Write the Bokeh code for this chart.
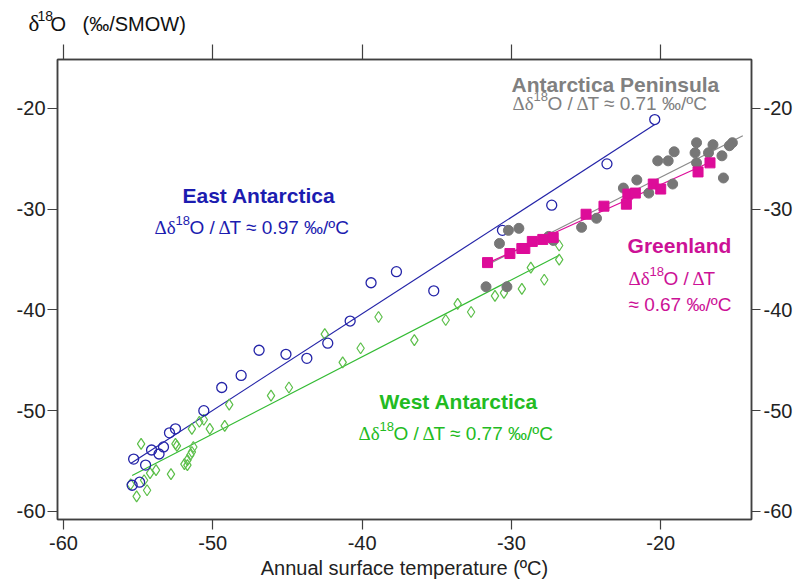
import numpy as np
from bokeh.plotting import figure
from bokeh.layouts import column
from bokeh.models import Range1d, LinearAxis, Label, FixedTicker
from bokeh.embed import file_html
from bokeh.resources import INLINE

# ---------------- data ----------------
east_T = [-55.4, -54.9, -55.3, -54.5, -54.1, -53.6, -53.3, -52.9, -52.5, -50.6, -49.4, -48.1,
          -46.9, -45.1, -43.7, -42.3, -40.8, -39.4, -37.7, -35.2, -30.6, -27.3, -23.6, -20.4]
east_d = [-57.4, -57.1, -54.8, -55.4, -53.9, -54.3, -53.6, -52.2, -51.8, -50.0, -47.7, -46.5,
          -44.0, -44.4, -44.8, -43.3, -41.1, -37.3, -36.2, -38.1, -32.1, -29.6, -25.5, -21.1]

west_T = [-55.5, -55.1, -54.4, -54.6, -54.2, -53.8, -52.8, -51.9, -51.7, -51.7, -51.5, -51.4,
          -51.3, -52.5, -52.4, -54.8, -51.4, -50.6, -50.9, -50.2, -49.2, -48.9, -46.1, -44.9,
          -42.5, -41.3, -40.1, -38.9, -36.5, -34.4, -33.6, -32.7, -31.1, -30.5, -29.3, -28.7,
          -27.8, -26.8, -26.8]
west_d = [-57.3, -58.5, -57.9, -56.9, -56.2, -55.9, -56.3, -55.3, -55.4, -54.9, -54.4, -54.1,
          -53.6, -53.3, -53.5, -53.3, -51.8, -50.9, -51.1, -51.8, -51.5, -49.4, -48.5, -47.7,
          -42.4, -45.2, -43.8, -40.7, -43.0, -41.0, -39.4, -40.2, -38.6, -38.3, -37.9, -35.8,
          -37.0, -33.6, -35.0]

pen_T = [-17.6, -16.5, -15.2, -15.4, -19.1, -17.7, -16.8, -15.9, -20.2, -19.5, -17.6, -15.8,
         -21.6, -22.5, -19.2, -20.8, -24.3, -25.3, -27.5, -27.2, -29.5, -30.2, -30.8, -31.7, -30.3]
pen_d = [-23.4, -23.6, -23.4, -23.7, -24.3, -24.4, -24.4, -24.7, -25.2, -25.2, -25.4, -26.9,
         -27.1, -27.9, -27.5, -28.4, -30.9, -31.8, -32.7, -33.1, -31.9, -32.1, -33.4, -37.7, -37.7]

green_T = [-31.6, -30.1, -29.3, -29.1, -28.6, -27.9, -27.2, -25.0, -23.8, -22.3, -22.2, -21.7,
           -20.5, -20.0, -17.5, -16.7]
green_d = [-35.3, -34.4, -33.9, -33.9, -33.2, -33.0, -32.8, -30.5, -29.7, -29.5, -28.5, -28.4,
           -27.5, -28.0, -26.3, -25.4]

# extents of the fitted lines
east_fit_T = [-55.5, -20.4]
west_fit_T = [-55.4, -26.8]
pen_fit_T = [-31.6, -14.5]
green_fit_T = [-31.6, -16.7]

x_ticks = [-60, -50, -40, -30, -20]
x_tick_labels = ["-60", "-50", "-40", "-30", "-20"]
y_ticks = [-60, -50, -40, -30, -20]
y_tick_labels = ["-60", "-50", "-40", "-30", "-20"]

# ---------------- style ----------------
SANS = "Liberation Sans"
SERIF = "Liberation Serif"
BLUE, BLUE_T = "#2424a8", "#1c1cb0"
GREEN, GREEN_L, GREEN_T = "#33bb33", "#5cbf4a", "#22bb22"
GRAY, GRAY_T = "#777777", "#808080"
MAG, MAG_T = "#dd0c99", "#cc1196"
AX = "#404040"
RAISE = 7  # vertical nudge of all free texts, px

X0, X1 = -60.4, -13.92
Y0, Y1 = -60.8, -15.14

W = 796
HEAD = 40

# --- header strip carrying the y-axis title (pixel coordinates) ---
head = figure(width=W, height=HEAD, x_range=Range1d(0, W), y_range=Range1d(HEAD, 0),
              output_backend="svg", toolbar_location=None,
              x_axis_location=None, y_axis_location=None, min_border=0)
head.frame_align = False
head.xgrid.visible = False
head.ygrid.visible = False
head.outline_line_color = None


def add_pieces(fig, x, y, pieces, color, dx0=0, dy0=RAISE):
    for text, font, size, dx, rise, bold in pieces:
        fig.add_layout(Label(x=x, y=y, x_offset=dx0 + dx, y_offset=dy0 + rise, text=text,
                             text_font=font, text_font_size=f"{size}px", text_color=color,
                             text_font_style="bold" if bold else "normal",
                             text_baseline="alphabetic", text_align="left"))


add_pieces(head, 28, 30, [("δ", SERIF, 23, 0, 0, False),
                          ("18", SANS, 14, 9, 8, False),
                          ("O", SANS, 20, 22, 0, False),
                          ("(‰/SMOW)", SANS, 20, 54, 0, False)], "#111111")

# --- main plot ---
p = figure(width=W, height=581 - HEAD,
           x_range=Range1d(X0, X1), y_range=Range1d(Y0, Y1),
           output_backend="svg", toolbar_location=None,
           x_axis_location=None, y_axis_location=None,
           min_border_left=57, min_border_right=45, min_border_top=59 - HEAD, min_border_bottom=62)
p.xgrid.visible = False
p.ygrid.visible = False
p.outline_line_color = AX
p.outline_line_width = 1.5
p.background_fill_color = "white"
p.border_fill_color = "white"


def make_axis(ticks, labels, tick_len, standoff, font_size="20px"):
    ax = LinearAxis(ticker=FixedTicker(ticks=ticks))
    ax.major_label_overrides = {t: l for t, l in zip(ticks, labels)}
    ax.axis_line_color = AX
    ax.axis_line_width = 1.5
    ax.major_tick_line_color = AX
    ax.major_tick_line_width = 1.2
    ax.major_tick_out = tick_len
    ax.major_tick_in = 0
    ax.minor_tick_out = 0
    ax.minor_tick_in = 0
    ax.major_label_standoff = standoff
    ax.major_label_text_font = SANS
    ax.major_label_text_font_size = font_size
    ax.major_label_text_color = "#222222"
    return ax


bottom = make_axis(x_ticks, x_tick_labels, 10, 6)
bottom.axis_label = "Annual surface temperature (ºC)"
bottom.axis_label_text_font = SANS
bottom.axis_label_text_font_size = "20px"
bottom.axis_label_text_font_style = "normal"
bottom.axis_label_text_color = "#222222"
bottom.axis_label_standoff = 4
p.add_layout(bottom, "below")
p.add_layout(make_axis(x_ticks, ["" for _ in x_ticks], 15, 0, "1px"), "above")
p.add_layout(make_axis(y_ticks, y_tick_labels, 10, 2), "left")
p.add_layout(make_axis(y_ticks, y_tick_labels, 9, 3), "right")


def fit_line(T, d, ext, color, width=1.2):
    k = np.polyfit(T, d, 1)
    xs = np.array(ext)
    p.line(xs, np.polyval(k, xs), line_color=color, line_width=width)


fit_line(east_T, east_d, east_fit_T, BLUE)
fit_line(west_T, west_d, west_fit_T, GREEN)
fit_line(pen_T, pen_d, pen_fit_T, "#8a8a8a")
fit_line(green_T, green_d, green_fit_T, MAG)

p.scatter(west_T, west_d, marker="diamond", size=11, fill_color=None, line_color=GREEN_L, line_width=1.2)
p.scatter(east_T, east_d, marker="circle", size=10, fill_color=None, line_color=BLUE, line_width=1.3)
p.scatter(pen_T, pen_d, marker="circle", size=10, fill_color=GRAY, line_color=GRAY)
p.scatter(green_T, green_d, marker="square", size=10, fill_color=MAG, line_color=MAG)


def formula(x, y, rest, color):
    add_pieces(p, x, y, [("Δδ", SERIF, 19, 0, 0, False),
                         ("18", SANS, 13, 21, 7, False),
                         ("O / ", SANS, 19, 35, 0, False),
                         ("Δ", SERIF, 19, 64, 0, False),
                         (rest, SANS, 19, 75, 0, False)], color)


# group labels
add_pieces(p, -29.99, -18.31, [("Antarctica Peninsula", SANS, 21, 0, 0, True)], GRAY_T)
formula(-29.93, -20.20, "T ≈ 0.71 ‰/ºC", GRAY_T)

add_pieces(p, -52.03, -29.30, [("East Antarctica", SANS, 21, 0, 0, True)], BLUE_T)
formula(-53.90, -32.51, "T ≈ 0.97 ‰/ºC", BLUE_T)

add_pieces(p, -22.22, -34.29, [("Greenland", SANS, 21, 0, 0, True)], MAG_T)
formula(-22.16, -37.57, "T", MAG_T)
add_pieces(p, -22.16, -40.15, [("≈ 0.67 ‰/ºC", SANS, 19, 0, 0, False)], MAG_T)

add_pieces(p, -38.83, -49.78, [("West Antarctica", SANS, 21, 0, 0, True)], GREEN_T)
formula(-40.24, -52.95, "T ≈ 0.77 ‰/ºC", GREEN_T)

layout = column(head, p, spacing=0)
open("out.html", "w").write(file_html(layout, INLINE))
